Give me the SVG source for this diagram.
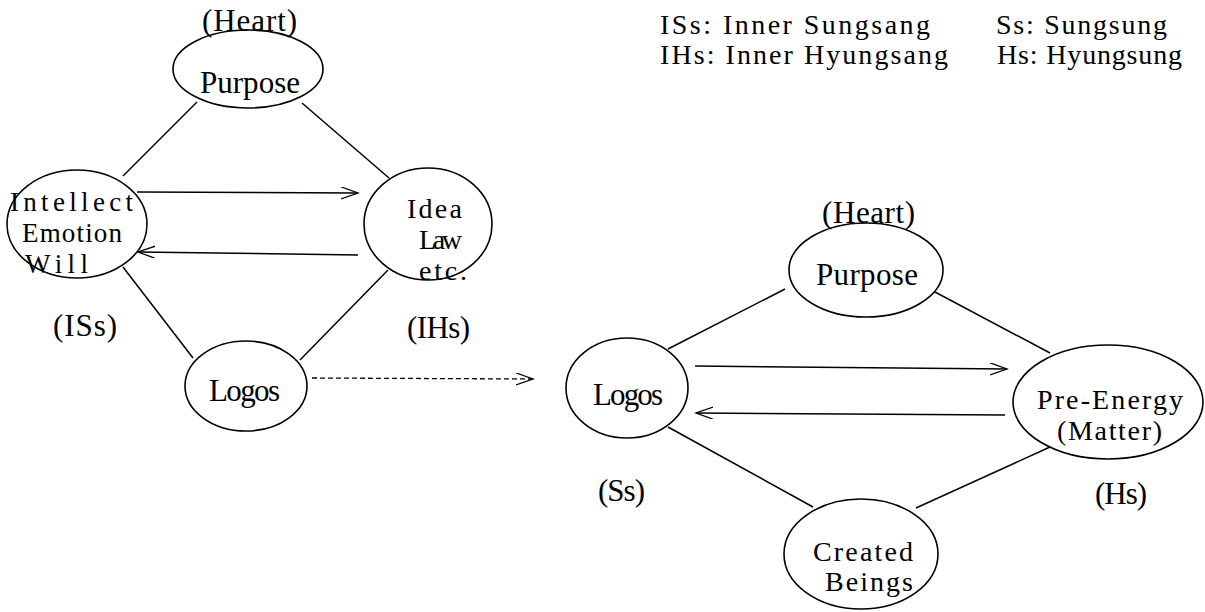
<svg xmlns="http://www.w3.org/2000/svg" width="1205" height="612" viewBox="0 0 1205 612">
<style>
  .t { font-family: "Liberation Serif", "DejaVu Serif", serif; font-size: 31px; fill: #000; }
  .s { font-size: 28px; }
  .xs { font-size: 27px; }
  .lg { font-family: "Liberation Serif", "DejaVu Serif", serif; font-size: 28px; fill: #000; }
  .node ellipse { fill: none; stroke: #000; stroke-width: 1.6; }
  .c { stroke: #000; stroke-width: 1.5; fill: none; }
  .d { stroke: #000; stroke-width: 1.3; fill: none; stroke-dasharray: 5 3; }
</style>
<defs>
  <marker id="ah" markerUnits="userSpaceOnUse" markerWidth="20" markerHeight="14" refX="17" refY="6" orient="auto">
    <path d="M0,0 L17,6 L0,12" fill="none" stroke="#000" stroke-width="1.3"/>
  </marker>
</defs>
<rect width="1205" height="612" fill="#fff"/>

<g id="legend">
  <text class="lg" x="660" y="34" textLength="270">ISs: Inner Sungsang</text>
  <text class="lg" x="660" y="64" textLength="288">IHs: Inner Hyungsang</text>
  <text class="lg" x="996" y="34" textLength="171">Ss: Sungsung</text>
  <text class="lg" x="997" y="64" textLength="185">Hs: Hyungsung</text>
</g>

<g id="connectors">
  <line class="c" x1="197" y1="102" x2="123" y2="176"/>
  <line class="c" x1="302" y1="103" x2="389" y2="178"/>
  <line class="c" x1="123" y1="267" x2="193" y2="358"/>
  <line class="c" x1="388" y1="270" x2="300" y2="360"/>
  <line class="c" x1="137" y1="192" x2="358" y2="193" marker-end="url(#ah)"/>
  <line class="c" x1="358" y1="255" x2="138" y2="252" marker-end="url(#ah)"/>
  <line class="d" x1="312" y1="378" x2="533" y2="379" marker-end="url(#ah)"/>
  <line class="c" x1="668" y1="349" x2="785" y2="289"/>
  <line class="c" x1="935" y1="292" x2="1050" y2="353"/>
  <line class="c" x1="668" y1="427" x2="813" y2="507"/>
  <line class="c" x1="1050" y1="447" x2="916" y2="508"/>
  <line class="c" x1="695" y1="366" x2="1007" y2="369" marker-end="url(#ah)"/>
  <line class="c" x1="1005" y1="415" x2="696" y2="413" marker-end="url(#ah)"/>
</g>

<g id="node-purpose-left" class="node">
  <ellipse cx="248" cy="69" rx="75" ry="39"/>
  <text class="t" x="202" y="31" textLength="95">(Heart)</text>
  <text class="t" x="200" y="93" textLength="100">Purpose</text>
</g>
<g id="node-intellect" class="node">
  <ellipse cx="77" cy="224" rx="70" ry="54"/>
  <text class="t xs" x="10" y="211" textLength="123">Intellect</text>
  <text class="t xs" x="22" y="242" textLength="100">Emotion</text>
  <text class="t xs" x="25" y="273" textLength="63">Will</text>
</g>
<g id="node-idea" class="node">
  <ellipse cx="428" cy="224" rx="64" ry="56"/>
  <text class="t s" x="407" y="218" textLength="55">Idea</text>
  <text class="t s" x="419" y="249" textLength="43">Law</text>
  <text class="t s" x="419" y="280" textLength="48">etc.</text>
</g>
<g id="label-iss">
  <text class="t" x="53" y="336" textLength="64">(ISs)</text>
</g>
<g id="label-ihs">
  <text class="t" x="407" y="338" textLength="63">(IHs)</text>
</g>
<g id="node-logos-left" class="node">
  <ellipse cx="246" cy="386" rx="61" ry="45"/>
  <text class="t" x="209" y="401" textLength="71">Logos</text>
</g>

<g id="node-purpose-right" class="node">
  <ellipse cx="866" cy="270" rx="77" ry="47"/>
  <text class="t" x="822" y="223" textLength="93">(Heart)</text>
  <text class="t" x="816" y="285" textLength="102">Purpose</text>
</g>
<g id="node-logos-right" class="node">
  <ellipse cx="627" cy="388" rx="61" ry="50"/>
  <text class="t" x="593" y="405" textLength="70">Logos</text>
</g>
<g id="node-pre-energy" class="node">
  <ellipse cx="1108" cy="402" rx="95" ry="57"/>
  <text class="t s" x="1037" y="409" textLength="146">Pre-Energy</text>
  <text class="t s" x="1057" y="440" textLength="105">(Matter)</text>
</g>
<g id="node-created" class="node">
  <ellipse cx="861" cy="554" rx="77" ry="55"/>
  <text class="t s" x="813" y="561" textLength="100">Created</text>
  <text class="t s" x="825" y="591" textLength="88">Beings</text>
</g>
<g id="label-ss">
  <text class="t" x="598" y="501" textLength="47">(Ss)</text>
</g>
<g id="label-hs">
  <text class="t" x="1095" y="504" textLength="52">(Hs)</text>
</g>
</svg>
